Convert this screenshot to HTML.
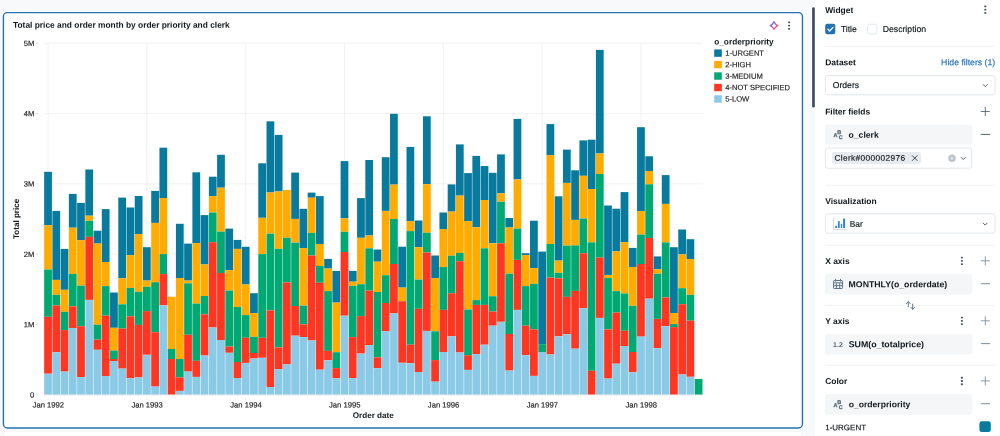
<!DOCTYPE html>
<html><head><meta charset="utf-8"><title>Dashboard</title>
<style>
*{box-sizing:border-box;margin:0;padding:0}
html,body{width:1000px;height:436px;overflow:hidden}
body{background:#f8f9fa;font-family:"Liberation Sans",sans-serif;color:#11171c}
#root{position:absolute;left:0;top:0;width:1000px;height:436px;overflow:hidden;will-change:transform;background:#f8f9fa}
#root>svg{position:absolute;left:0;top:0;text-rendering:geometricPrecision;font-family:"Liberation Sans",sans-serif}
</style></head><body>
<div id="root">
<svg width="1000" height="436" viewBox="0 0 1000 436">
<rect x="3.40" y="431.20" width="799.00" height="20.00" fill="#fff" rx="4.5" stroke="#ebebeb" stroke-width="0.5"/>
<rect x="3.40" y="12.60" width="799.05" height="415.40" fill="#fff" rx="3.9" stroke="#fff" stroke-width="2.3"/>
<rect x="3.40" y="12.60" width="799.05" height="415.40" fill="#fff" rx="3.9" stroke="#2272b4" stroke-width="1.4"/>
<rect x="812.10" y="7.30" width="2.70" height="100.30" fill="#fff" rx="1.3" stroke="#fff" stroke-width="1.4"/>
<rect x="812.10" y="7.30" width="2.70" height="100.30" fill="#3d4f5e" rx="1.3"/>
<rect x="815.10" y="-1.00" width="186.00" height="440.00" fill="#fff"/>
<line x1="43.90" x2="702.70" y1="394.65" y2="394.65" stroke="#ececec" stroke-width="0.7"/>
<line x1="35.70" x2="38.60" y1="394.65" y2="394.65" stroke="#d2d2d2" stroke-width="0.7"/>
<line x1="43.90" x2="702.70" y1="324.38" y2="324.38" stroke="#ececec" stroke-width="0.7"/>
<line x1="35.70" x2="38.60" y1="324.38" y2="324.38" stroke="#d2d2d2" stroke-width="0.7"/>
<line x1="43.90" x2="702.70" y1="254.11" y2="254.11" stroke="#ececec" stroke-width="0.7"/>
<line x1="35.70" x2="38.60" y1="254.11" y2="254.11" stroke="#d2d2d2" stroke-width="0.7"/>
<line x1="43.90" x2="702.70" y1="183.84" y2="183.84" stroke="#ececec" stroke-width="0.7"/>
<line x1="35.70" x2="38.60" y1="183.84" y2="183.84" stroke="#d2d2d2" stroke-width="0.7"/>
<line x1="43.90" x2="702.70" y1="113.57" y2="113.57" stroke="#ececec" stroke-width="0.7"/>
<line x1="35.70" x2="38.60" y1="113.57" y2="113.57" stroke="#d2d2d2" stroke-width="0.7"/>
<line x1="43.90" x2="702.70" y1="43.30" y2="43.30" stroke="#ececec" stroke-width="0.7"/>
<line x1="35.70" x2="38.60" y1="43.30" y2="43.30" stroke="#d2d2d2" stroke-width="0.7"/>
<line x1="48.05" x2="48.05" y1="43.30" y2="394.40" stroke="#ececec" stroke-width="0.7"/>
<line x1="48.05" x2="48.05" y1="397.20" y2="400.00" stroke="#e6e6e6" stroke-width="0.7"/>
<line x1="146.87" x2="146.87" y1="43.30" y2="394.40" stroke="#ececec" stroke-width="0.7"/>
<line x1="146.87" x2="146.87" y1="397.20" y2="400.00" stroke="#e6e6e6" stroke-width="0.7"/>
<line x1="245.69" x2="245.69" y1="43.30" y2="394.40" stroke="#ececec" stroke-width="0.7"/>
<line x1="245.69" x2="245.69" y1="397.20" y2="400.00" stroke="#e6e6e6" stroke-width="0.7"/>
<line x1="344.51" x2="344.51" y1="43.30" y2="394.40" stroke="#ececec" stroke-width="0.7"/>
<line x1="344.51" x2="344.51" y1="397.20" y2="400.00" stroke="#e6e6e6" stroke-width="0.7"/>
<line x1="443.33" x2="443.33" y1="43.30" y2="394.40" stroke="#ececec" stroke-width="0.7"/>
<line x1="443.33" x2="443.33" y1="397.20" y2="400.00" stroke="#e6e6e6" stroke-width="0.7"/>
<line x1="542.15" x2="542.15" y1="43.30" y2="394.40" stroke="#ececec" stroke-width="0.7"/>
<line x1="542.15" x2="542.15" y1="397.20" y2="400.00" stroke="#e6e6e6" stroke-width="0.7"/>
<line x1="640.97" x2="640.97" y1="43.30" y2="394.40" stroke="#ececec" stroke-width="0.7"/>
<line x1="640.97" x2="640.97" y1="397.20" y2="400.00" stroke="#e6e6e6" stroke-width="0.7"/>
<rect x="44.16" y="171.80" width="7.76" height="53.40" fill="#077a9d"/>
<rect x="44.16" y="225.20" width="7.76" height="44.30" fill="#ffab00"/>
<rect x="44.16" y="269.50" width="7.76" height="47.30" fill="#00a972"/>
<rect x="44.16" y="316.80" width="7.76" height="56.90" fill="#ff3621"/>
<rect x="44.16" y="373.70" width="7.76" height="20.95" fill="#8bcae7"/>
<rect x="52.40" y="210.90" width="7.76" height="69.00" fill="#077a9d"/>
<rect x="52.40" y="279.90" width="7.76" height="14.90" fill="#ffab00"/>
<rect x="52.40" y="294.80" width="7.76" height="10.60" fill="#00a972"/>
<rect x="52.40" y="305.40" width="7.76" height="46.90" fill="#ff3621"/>
<rect x="52.40" y="352.30" width="7.76" height="42.35" fill="#8bcae7"/>
<rect x="60.63" y="248.90" width="7.76" height="40.90" fill="#077a9d"/>
<rect x="60.63" y="289.80" width="7.76" height="22.00" fill="#ffab00"/>
<rect x="60.63" y="311.80" width="7.76" height="18.30" fill="#00a972"/>
<rect x="60.63" y="330.10" width="7.76" height="41.50" fill="#ff3621"/>
<rect x="60.63" y="371.60" width="7.76" height="23.05" fill="#8bcae7"/>
<rect x="68.87" y="193.90" width="7.76" height="33.80" fill="#077a9d"/>
<rect x="68.87" y="227.70" width="7.76" height="46.20" fill="#ffab00"/>
<rect x="68.87" y="273.90" width="7.76" height="32.40" fill="#00a972"/>
<rect x="68.87" y="306.30" width="7.76" height="21.70" fill="#ff3621"/>
<rect x="68.87" y="328.00" width="7.76" height="66.65" fill="#8bcae7"/>
<rect x="77.11" y="202.90" width="7.76" height="37.20" fill="#077a9d"/>
<rect x="77.11" y="240.10" width="7.76" height="45.50" fill="#ffab00"/>
<rect x="77.11" y="285.60" width="7.76" height="40.60" fill="#00a972"/>
<rect x="77.11" y="326.20" width="7.76" height="50.90" fill="#ff3621"/>
<rect x="77.11" y="377.10" width="7.76" height="17.55" fill="#8bcae7"/>
<rect x="85.34" y="169.50" width="7.76" height="46.20" fill="#077a9d"/>
<rect x="85.34" y="215.70" width="7.76" height="5.10" fill="#ffab00"/>
<rect x="85.34" y="220.80" width="7.76" height="16.10" fill="#00a972"/>
<rect x="85.34" y="236.90" width="7.76" height="63.00" fill="#ff3621"/>
<rect x="85.34" y="299.90" width="7.76" height="94.75" fill="#8bcae7"/>
<rect x="93.58" y="230.70" width="7.76" height="12.90" fill="#077a9d"/>
<rect x="93.58" y="243.60" width="7.76" height="81.10" fill="#ffab00"/>
<rect x="93.58" y="324.70" width="7.76" height="15.00" fill="#00a972"/>
<rect x="93.58" y="339.70" width="7.76" height="10.10" fill="#ff3621"/>
<rect x="93.58" y="349.80" width="7.76" height="44.85" fill="#8bcae7"/>
<rect x="101.81" y="209.10" width="7.76" height="52.90" fill="#077a9d"/>
<rect x="101.81" y="262.00" width="7.76" height="24.10" fill="#ffab00"/>
<rect x="101.81" y="286.10" width="7.76" height="29.60" fill="#00a972"/>
<rect x="101.81" y="315.70" width="7.76" height="60.30" fill="#ff3621"/>
<rect x="101.81" y="376.00" width="7.76" height="18.65" fill="#8bcae7"/>
<rect x="110.05" y="292.50" width="7.76" height="35.30" fill="#077a9d"/>
<rect x="110.05" y="327.80" width="7.76" height="22.70" fill="#ffab00"/>
<rect x="110.05" y="350.50" width="7.76" height="8.50" fill="#00a972"/>
<rect x="110.05" y="359.00" width="7.76" height="2.00" fill="#ff3621"/>
<rect x="110.05" y="361.00" width="7.76" height="33.65" fill="#8bcae7"/>
<rect x="118.28" y="197.60" width="7.76" height="80.70" fill="#077a9d"/>
<rect x="118.28" y="278.30" width="7.76" height="26.00" fill="#ffab00"/>
<rect x="118.28" y="304.30" width="7.76" height="24.30" fill="#00a972"/>
<rect x="118.28" y="328.60" width="7.76" height="40.00" fill="#ff3621"/>
<rect x="118.28" y="368.60" width="7.76" height="26.05" fill="#8bcae7"/>
<rect x="126.52" y="207.50" width="7.76" height="47.60" fill="#077a9d"/>
<rect x="126.52" y="255.10" width="7.76" height="32.80" fill="#ffab00"/>
<rect x="126.52" y="287.90" width="7.76" height="28.40" fill="#00a972"/>
<rect x="126.52" y="316.30" width="7.76" height="62.00" fill="#ff3621"/>
<rect x="126.52" y="378.30" width="7.76" height="16.35" fill="#8bcae7"/>
<rect x="134.75" y="196.00" width="7.76" height="38.10" fill="#077a9d"/>
<rect x="134.75" y="234.10" width="7.76" height="57.70" fill="#ffab00"/>
<rect x="134.75" y="291.80" width="7.76" height="33.10" fill="#00a972"/>
<rect x="134.75" y="324.90" width="7.76" height="52.50" fill="#ff3621"/>
<rect x="134.75" y="377.40" width="7.76" height="17.25" fill="#8bcae7"/>
<rect x="142.99" y="247.20" width="7.76" height="33.40" fill="#077a9d"/>
<rect x="142.99" y="280.60" width="7.76" height="6.20" fill="#ffab00"/>
<rect x="142.99" y="286.80" width="7.76" height="24.30" fill="#00a972"/>
<rect x="142.99" y="311.10" width="7.76" height="43.70" fill="#ff3621"/>
<rect x="142.99" y="354.80" width="7.76" height="39.85" fill="#8bcae7"/>
<rect x="151.22" y="190.90" width="7.76" height="32.00" fill="#077a9d"/>
<rect x="151.22" y="222.90" width="7.76" height="59.30" fill="#ffab00"/>
<rect x="151.22" y="282.20" width="7.76" height="50.00" fill="#00a972"/>
<rect x="151.22" y="332.20" width="7.76" height="54.40" fill="#ff3621"/>
<rect x="151.22" y="386.60" width="7.76" height="8.05" fill="#8bcae7"/>
<rect x="159.46" y="147.70" width="7.76" height="50.30" fill="#077a9d"/>
<rect x="159.46" y="198.00" width="7.76" height="56.10" fill="#ffab00"/>
<rect x="159.46" y="254.10" width="7.76" height="20.00" fill="#00a972"/>
<rect x="159.46" y="274.10" width="7.76" height="31.30" fill="#ff3621"/>
<rect x="159.46" y="305.40" width="7.76" height="89.25" fill="#8bcae7"/>
<rect x="167.69" y="296.70" width="7.76" height="52.30" fill="#ffab00"/>
<rect x="167.69" y="349.00" width="7.76" height="10.00" fill="#00a972"/>
<rect x="167.69" y="359.00" width="7.76" height="35.65" fill="#ff3621"/>
<rect x="175.93" y="223.80" width="7.76" height="54.20" fill="#077a9d"/>
<rect x="175.93" y="278.00" width="7.76" height="81.00" fill="#ffab00"/>
<rect x="175.93" y="359.00" width="7.76" height="18.40" fill="#00a972"/>
<rect x="175.93" y="377.40" width="7.76" height="13.50" fill="#ff3621"/>
<rect x="175.93" y="390.90" width="7.76" height="3.75" fill="#8bcae7"/>
<rect x="184.16" y="243.60" width="7.76" height="37.00" fill="#077a9d"/>
<rect x="184.16" y="280.60" width="7.76" height="2.70" fill="#ffab00"/>
<rect x="184.16" y="283.30" width="7.76" height="51.50" fill="#00a972"/>
<rect x="184.16" y="334.80" width="7.76" height="36.80" fill="#ff3621"/>
<rect x="184.16" y="371.60" width="7.76" height="23.05" fill="#8bcae7"/>
<rect x="192.40" y="172.30" width="7.76" height="70.80" fill="#077a9d"/>
<rect x="192.40" y="243.10" width="7.76" height="60.50" fill="#ffab00"/>
<rect x="192.40" y="303.60" width="7.76" height="57.20" fill="#00a972"/>
<rect x="192.40" y="360.80" width="7.76" height="16.10" fill="#ff3621"/>
<rect x="192.40" y="376.90" width="7.76" height="17.75" fill="#8bcae7"/>
<rect x="200.63" y="215.10" width="7.76" height="49.40" fill="#077a9d"/>
<rect x="200.63" y="264.50" width="7.76" height="31.50" fill="#ffab00"/>
<rect x="200.63" y="296.00" width="7.76" height="18.30" fill="#00a972"/>
<rect x="200.63" y="314.30" width="7.76" height="41.20" fill="#ff3621"/>
<rect x="200.63" y="355.50" width="7.76" height="39.15" fill="#8bcae7"/>
<rect x="208.87" y="176.70" width="7.76" height="19.50" fill="#077a9d"/>
<rect x="208.87" y="196.20" width="7.76" height="16.30" fill="#ffab00"/>
<rect x="208.87" y="212.50" width="7.76" height="29.70" fill="#00a972"/>
<rect x="208.87" y="242.20" width="7.76" height="85.30" fill="#ff3621"/>
<rect x="208.87" y="327.50" width="7.76" height="67.15" fill="#8bcae7"/>
<rect x="217.10" y="154.80" width="7.76" height="32.90" fill="#077a9d"/>
<rect x="217.10" y="187.70" width="7.76" height="43.90" fill="#ffab00"/>
<rect x="217.10" y="231.60" width="7.76" height="41.40" fill="#00a972"/>
<rect x="217.10" y="273.00" width="7.76" height="67.00" fill="#ff3621"/>
<rect x="217.10" y="340.00" width="7.76" height="54.65" fill="#8bcae7"/>
<rect x="225.34" y="228.60" width="7.76" height="41.60" fill="#077a9d"/>
<rect x="225.34" y="270.20" width="7.76" height="20.30" fill="#ffab00"/>
<rect x="225.34" y="290.50" width="7.76" height="56.00" fill="#00a972"/>
<rect x="225.34" y="346.50" width="7.76" height="6.30" fill="#ff3621"/>
<rect x="225.34" y="352.80" width="7.76" height="41.85" fill="#8bcae7"/>
<rect x="233.57" y="239.90" width="7.76" height="9.00" fill="#077a9d"/>
<rect x="233.57" y="248.90" width="7.76" height="58.10" fill="#ffab00"/>
<rect x="233.57" y="307.00" width="7.76" height="55.00" fill="#00a972"/>
<rect x="233.57" y="362.00" width="7.76" height="16.00" fill="#ff3621"/>
<rect x="233.57" y="378.00" width="7.76" height="16.65" fill="#8bcae7"/>
<rect x="241.81" y="246.80" width="7.76" height="37.70" fill="#077a9d"/>
<rect x="241.81" y="284.50" width="7.76" height="30.60" fill="#ffab00"/>
<rect x="241.81" y="315.10" width="7.76" height="22.70" fill="#00a972"/>
<rect x="241.81" y="337.80" width="7.76" height="25.10" fill="#ff3621"/>
<rect x="241.81" y="362.90" width="7.76" height="31.75" fill="#8bcae7"/>
<rect x="250.04" y="293.20" width="7.76" height="19.90" fill="#077a9d"/>
<rect x="250.04" y="313.10" width="7.76" height="23.70" fill="#ffab00"/>
<rect x="250.04" y="336.80" width="7.76" height="16.20" fill="#00a972"/>
<rect x="250.04" y="353.00" width="7.76" height="5.50" fill="#ff3621"/>
<rect x="250.04" y="358.50" width="7.76" height="36.15" fill="#8bcae7"/>
<rect x="258.27" y="163.30" width="7.76" height="54.50" fill="#077a9d"/>
<rect x="258.27" y="217.80" width="7.76" height="36.30" fill="#ffab00"/>
<rect x="258.27" y="254.10" width="7.76" height="83.70" fill="#00a972"/>
<rect x="258.27" y="337.80" width="7.76" height="20.00" fill="#ff3621"/>
<rect x="258.27" y="357.80" width="7.76" height="36.85" fill="#8bcae7"/>
<rect x="266.51" y="121.30" width="7.76" height="71.20" fill="#077a9d"/>
<rect x="266.51" y="192.50" width="7.76" height="41.20" fill="#ffab00"/>
<rect x="266.51" y="233.70" width="7.76" height="76.70" fill="#00a972"/>
<rect x="266.51" y="310.40" width="7.76" height="76.60" fill="#ff3621"/>
<rect x="266.51" y="387.00" width="7.76" height="7.65" fill="#8bcae7"/>
<rect x="274.75" y="134.90" width="7.76" height="56.60" fill="#077a9d"/>
<rect x="274.75" y="191.50" width="7.76" height="57.30" fill="#ffab00"/>
<rect x="274.75" y="248.80" width="7.76" height="98.60" fill="#00a972"/>
<rect x="274.75" y="347.40" width="7.76" height="21.60" fill="#ff3621"/>
<rect x="274.75" y="369.00" width="7.76" height="25.65" fill="#8bcae7"/>
<rect x="282.98" y="189.90" width="7.76" height="47.90" fill="#ffab00"/>
<rect x="282.98" y="237.80" width="7.76" height="44.60" fill="#00a972"/>
<rect x="282.98" y="282.40" width="7.76" height="82.00" fill="#ff3621"/>
<rect x="282.98" y="364.40" width="7.76" height="30.25" fill="#8bcae7"/>
<rect x="291.21" y="172.60" width="7.76" height="46.30" fill="#077a9d"/>
<rect x="291.21" y="218.90" width="7.76" height="23.70" fill="#ffab00"/>
<rect x="291.21" y="242.60" width="7.76" height="63.40" fill="#00a972"/>
<rect x="291.21" y="306.00" width="7.76" height="29.70" fill="#ff3621"/>
<rect x="291.21" y="335.70" width="7.76" height="58.95" fill="#8bcae7"/>
<rect x="299.45" y="208.80" width="7.76" height="39.30" fill="#077a9d"/>
<rect x="299.45" y="248.10" width="7.76" height="57.50" fill="#ffab00"/>
<rect x="299.45" y="305.60" width="7.76" height="18.80" fill="#00a972"/>
<rect x="299.45" y="324.40" width="7.76" height="12.70" fill="#ff3621"/>
<rect x="299.45" y="337.10" width="7.76" height="57.55" fill="#8bcae7"/>
<rect x="307.69" y="192.60" width="7.76" height="5.10" fill="#077a9d"/>
<rect x="307.69" y="197.70" width="7.76" height="35.20" fill="#ffab00"/>
<rect x="307.69" y="232.90" width="7.76" height="22.60" fill="#00a972"/>
<rect x="307.69" y="255.50" width="7.76" height="85.00" fill="#ff3621"/>
<rect x="307.69" y="340.50" width="7.76" height="54.15" fill="#8bcae7"/>
<rect x="315.92" y="196.10" width="7.76" height="47.90" fill="#077a9d"/>
<rect x="315.92" y="244.00" width="7.76" height="22.00" fill="#ffab00"/>
<rect x="315.92" y="266.00" width="7.76" height="16.80" fill="#00a972"/>
<rect x="315.92" y="282.80" width="7.76" height="86.90" fill="#ff3621"/>
<rect x="315.92" y="369.70" width="7.76" height="24.95" fill="#8bcae7"/>
<rect x="324.16" y="258.90" width="7.76" height="9.70" fill="#077a9d"/>
<rect x="324.16" y="268.60" width="7.76" height="22.50" fill="#ffab00"/>
<rect x="324.16" y="291.10" width="7.76" height="59.80" fill="#00a972"/>
<rect x="324.16" y="350.90" width="7.76" height="9.40" fill="#ff3621"/>
<rect x="324.16" y="360.30" width="7.76" height="34.35" fill="#8bcae7"/>
<rect x="332.39" y="270.90" width="7.76" height="31.70" fill="#077a9d"/>
<rect x="332.39" y="302.60" width="7.76" height="49.60" fill="#ffab00"/>
<rect x="332.39" y="352.20" width="7.76" height="15.90" fill="#00a972"/>
<rect x="332.39" y="368.10" width="7.76" height="10.30" fill="#ff3621"/>
<rect x="332.39" y="378.40" width="7.76" height="16.25" fill="#8bcae7"/>
<rect x="340.62" y="161.10" width="7.76" height="57.30" fill="#077a9d"/>
<rect x="340.62" y="218.40" width="7.76" height="13.40" fill="#ffab00"/>
<rect x="340.62" y="231.80" width="7.76" height="20.20" fill="#00a972"/>
<rect x="340.62" y="252.00" width="7.76" height="63.70" fill="#ff3621"/>
<rect x="340.62" y="315.70" width="7.76" height="78.95" fill="#8bcae7"/>
<rect x="348.86" y="270.90" width="7.76" height="10.80" fill="#077a9d"/>
<rect x="348.86" y="281.70" width="7.76" height="4.10" fill="#ffab00"/>
<rect x="348.86" y="285.80" width="7.76" height="51.30" fill="#00a972"/>
<rect x="348.86" y="337.10" width="7.76" height="41.10" fill="#ff3621"/>
<rect x="348.86" y="378.20" width="7.76" height="16.45" fill="#8bcae7"/>
<rect x="357.09" y="198.10" width="7.76" height="39.70" fill="#077a9d"/>
<rect x="357.09" y="237.80" width="7.76" height="46.40" fill="#ffab00"/>
<rect x="357.09" y="284.20" width="7.76" height="31.90" fill="#00a972"/>
<rect x="357.09" y="316.10" width="7.76" height="37.50" fill="#ff3621"/>
<rect x="357.09" y="353.60" width="7.76" height="41.05" fill="#8bcae7"/>
<rect x="365.33" y="160.00" width="7.76" height="75.50" fill="#077a9d"/>
<rect x="365.33" y="235.50" width="7.76" height="12.80" fill="#ffab00"/>
<rect x="365.33" y="248.30" width="7.76" height="42.30" fill="#00a972"/>
<rect x="365.33" y="290.60" width="7.76" height="54.50" fill="#ff3621"/>
<rect x="365.33" y="345.10" width="7.76" height="49.55" fill="#8bcae7"/>
<rect x="373.56" y="249.50" width="7.76" height="12.20" fill="#077a9d"/>
<rect x="373.56" y="261.70" width="7.76" height="30.30" fill="#ffab00"/>
<rect x="373.56" y="292.00" width="7.76" height="65.30" fill="#00a972"/>
<rect x="373.56" y="357.30" width="7.76" height="10.80" fill="#ff3621"/>
<rect x="373.56" y="368.10" width="7.76" height="26.55" fill="#8bcae7"/>
<rect x="381.80" y="157.20" width="7.76" height="53.70" fill="#077a9d"/>
<rect x="381.80" y="210.90" width="7.76" height="64.30" fill="#ffab00"/>
<rect x="381.80" y="275.20" width="7.76" height="27.80" fill="#00a972"/>
<rect x="381.80" y="303.00" width="7.76" height="28.30" fill="#ff3621"/>
<rect x="381.80" y="331.30" width="7.76" height="63.35" fill="#8bcae7"/>
<rect x="390.04" y="113.80" width="7.76" height="70.80" fill="#077a9d"/>
<rect x="390.04" y="184.60" width="7.76" height="34.30" fill="#ffab00"/>
<rect x="390.04" y="218.90" width="7.76" height="45.10" fill="#00a972"/>
<rect x="390.04" y="264.00" width="7.76" height="49.40" fill="#ff3621"/>
<rect x="390.04" y="313.40" width="7.76" height="81.25" fill="#8bcae7"/>
<rect x="398.27" y="246.70" width="7.76" height="40.90" fill="#077a9d"/>
<rect x="398.27" y="287.60" width="7.76" height="13.60" fill="#ffab00"/>
<rect x="398.27" y="301.20" width="7.76" height="61.60" fill="#ff3621"/>
<rect x="398.27" y="362.80" width="7.76" height="31.85" fill="#8bcae7"/>
<rect x="406.50" y="146.90" width="7.76" height="74.30" fill="#077a9d"/>
<rect x="406.50" y="221.20" width="7.76" height="9.90" fill="#ffab00"/>
<rect x="406.50" y="231.10" width="7.76" height="113.60" fill="#00a972"/>
<rect x="406.50" y="344.70" width="7.76" height="18.60" fill="#ff3621"/>
<rect x="406.50" y="363.30" width="7.76" height="31.35" fill="#8bcae7"/>
<rect x="414.74" y="220.50" width="7.76" height="26.70" fill="#077a9d"/>
<rect x="414.74" y="247.20" width="7.76" height="32.40" fill="#ffab00"/>
<rect x="414.74" y="279.60" width="7.76" height="29.20" fill="#00a972"/>
<rect x="414.74" y="308.80" width="7.76" height="63.20" fill="#ff3621"/>
<rect x="414.74" y="372.00" width="7.76" height="22.65" fill="#8bcae7"/>
<rect x="422.97" y="116.30" width="7.76" height="67.80" fill="#077a9d"/>
<rect x="422.97" y="184.10" width="7.76" height="48.60" fill="#ffab00"/>
<rect x="422.97" y="232.70" width="7.76" height="19.80" fill="#00a972"/>
<rect x="422.97" y="252.50" width="7.76" height="78.40" fill="#ff3621"/>
<rect x="422.97" y="330.90" width="7.76" height="63.75" fill="#8bcae7"/>
<rect x="431.21" y="255.50" width="7.76" height="22.70" fill="#077a9d"/>
<rect x="431.21" y="278.20" width="7.76" height="53.10" fill="#ffab00"/>
<rect x="431.21" y="331.30" width="7.76" height="28.80" fill="#00a972"/>
<rect x="431.21" y="360.10" width="7.76" height="21.60" fill="#ff3621"/>
<rect x="431.21" y="381.70" width="7.76" height="12.95" fill="#8bcae7"/>
<rect x="439.44" y="212.50" width="7.76" height="16.50" fill="#077a9d"/>
<rect x="439.44" y="229.00" width="7.76" height="38.00" fill="#ffab00"/>
<rect x="439.44" y="267.00" width="7.76" height="42.90" fill="#00a972"/>
<rect x="439.44" y="309.90" width="7.76" height="42.10" fill="#ff3621"/>
<rect x="439.44" y="352.00" width="7.76" height="42.65" fill="#8bcae7"/>
<rect x="447.68" y="184.40" width="7.76" height="27.20" fill="#077a9d"/>
<rect x="447.68" y="211.60" width="7.76" height="44.10" fill="#ffab00"/>
<rect x="447.68" y="255.70" width="7.76" height="37.50" fill="#00a972"/>
<rect x="447.68" y="293.20" width="7.76" height="43.20" fill="#ff3621"/>
<rect x="447.68" y="336.40" width="7.76" height="58.25" fill="#8bcae7"/>
<rect x="455.92" y="144.40" width="7.76" height="51.20" fill="#077a9d"/>
<rect x="455.92" y="195.60" width="7.76" height="57.30" fill="#ffab00"/>
<rect x="455.92" y="252.90" width="7.76" height="8.30" fill="#00a972"/>
<rect x="455.92" y="261.20" width="7.76" height="91.30" fill="#ff3621"/>
<rect x="455.92" y="352.50" width="7.76" height="42.15" fill="#8bcae7"/>
<rect x="464.15" y="173.10" width="7.76" height="48.10" fill="#077a9d"/>
<rect x="464.15" y="221.20" width="7.76" height="88.30" fill="#ffab00"/>
<rect x="464.15" y="309.50" width="7.76" height="45.70" fill="#00a972"/>
<rect x="464.15" y="355.20" width="7.76" height="14.70" fill="#ff3621"/>
<rect x="464.15" y="369.90" width="7.76" height="24.75" fill="#8bcae7"/>
<rect x="472.38" y="155.90" width="7.76" height="71.30" fill="#077a9d"/>
<rect x="472.38" y="227.20" width="7.76" height="72.90" fill="#ffab00"/>
<rect x="472.38" y="300.10" width="7.76" height="4.80" fill="#00a972"/>
<rect x="472.38" y="304.90" width="7.76" height="49.20" fill="#ff3621"/>
<rect x="472.38" y="354.10" width="7.76" height="40.55" fill="#8bcae7"/>
<rect x="480.62" y="166.00" width="7.76" height="34.00" fill="#077a9d"/>
<rect x="480.62" y="200.00" width="7.76" height="48.30" fill="#ffab00"/>
<rect x="480.62" y="248.30" width="7.76" height="56.60" fill="#00a972"/>
<rect x="480.62" y="304.90" width="7.76" height="39.80" fill="#ff3621"/>
<rect x="480.62" y="344.70" width="7.76" height="49.95" fill="#8bcae7"/>
<rect x="488.85" y="172.80" width="7.76" height="70.50" fill="#077a9d"/>
<rect x="488.85" y="243.30" width="7.76" height="52.90" fill="#ffab00"/>
<rect x="488.85" y="296.20" width="7.76" height="15.30" fill="#00a972"/>
<rect x="488.85" y="311.50" width="7.76" height="14.20" fill="#ff3621"/>
<rect x="488.85" y="325.70" width="7.76" height="68.95" fill="#8bcae7"/>
<rect x="497.09" y="154.40" width="7.76" height="38.90" fill="#077a9d"/>
<rect x="497.09" y="193.30" width="7.76" height="8.50" fill="#ffab00"/>
<rect x="497.09" y="201.80" width="7.76" height="41.50" fill="#00a972"/>
<rect x="497.09" y="243.30" width="7.76" height="78.50" fill="#ff3621"/>
<rect x="497.09" y="321.80" width="7.76" height="72.85" fill="#8bcae7"/>
<rect x="505.32" y="218.00" width="7.76" height="9.50" fill="#077a9d"/>
<rect x="505.32" y="227.50" width="7.76" height="46.20" fill="#ffab00"/>
<rect x="505.32" y="273.70" width="7.76" height="60.30" fill="#00a972"/>
<rect x="505.32" y="334.00" width="7.76" height="36.60" fill="#ff3621"/>
<rect x="505.32" y="370.60" width="7.76" height="24.05" fill="#8bcae7"/>
<rect x="513.56" y="118.90" width="7.76" height="60.60" fill="#077a9d"/>
<rect x="513.56" y="179.50" width="7.76" height="49.10" fill="#ffab00"/>
<rect x="513.56" y="228.60" width="7.76" height="31.30" fill="#00a972"/>
<rect x="513.56" y="259.90" width="7.76" height="50.00" fill="#ff3621"/>
<rect x="513.56" y="309.90" width="7.76" height="84.75" fill="#8bcae7"/>
<rect x="521.79" y="253.20" width="7.76" height="1.90" fill="#077a9d"/>
<rect x="521.79" y="255.10" width="7.76" height="31.00" fill="#ffab00"/>
<rect x="521.79" y="286.10" width="7.76" height="39.60" fill="#00a972"/>
<rect x="521.79" y="325.70" width="7.76" height="29.50" fill="#ff3621"/>
<rect x="521.79" y="355.20" width="7.76" height="39.45" fill="#8bcae7"/>
<rect x="530.03" y="220.70" width="7.76" height="47.50" fill="#077a9d"/>
<rect x="530.03" y="268.20" width="7.76" height="15.60" fill="#ffab00"/>
<rect x="530.03" y="283.80" width="7.76" height="45.60" fill="#00a972"/>
<rect x="530.03" y="329.40" width="7.76" height="46.50" fill="#ff3621"/>
<rect x="530.03" y="375.90" width="7.76" height="18.75" fill="#8bcae7"/>
<rect x="538.26" y="251.60" width="7.76" height="92.50" fill="#077a9d"/>
<rect x="538.26" y="344.10" width="7.76" height="7.90" fill="#00a972"/>
<rect x="538.26" y="352.00" width="7.76" height="42.65" fill="#8bcae7"/>
<rect x="546.50" y="124.10" width="7.76" height="31.00" fill="#077a9d"/>
<rect x="546.50" y="155.10" width="7.76" height="88.90" fill="#ffab00"/>
<rect x="546.50" y="244.00" width="7.76" height="33.60" fill="#00a972"/>
<rect x="546.50" y="277.60" width="7.76" height="76.90" fill="#ff3621"/>
<rect x="546.50" y="354.50" width="7.76" height="40.15" fill="#8bcae7"/>
<rect x="554.73" y="196.30" width="7.76" height="64.30" fill="#077a9d"/>
<rect x="554.73" y="260.60" width="7.76" height="12.20" fill="#ffab00"/>
<rect x="554.73" y="272.80" width="7.76" height="5.50" fill="#00a972"/>
<rect x="554.73" y="278.30" width="7.76" height="58.00" fill="#ff3621"/>
<rect x="554.73" y="336.30" width="7.76" height="58.35" fill="#8bcae7"/>
<rect x="562.97" y="149.60" width="7.76" height="33.30" fill="#077a9d"/>
<rect x="562.97" y="182.90" width="7.76" height="62.70" fill="#ffab00"/>
<rect x="562.97" y="245.60" width="7.76" height="51.30" fill="#00a972"/>
<rect x="562.97" y="296.90" width="7.76" height="37.40" fill="#ff3621"/>
<rect x="562.97" y="334.30" width="7.76" height="60.35" fill="#8bcae7"/>
<rect x="571.20" y="170.30" width="7.76" height="49.60" fill="#077a9d"/>
<rect x="571.20" y="219.90" width="7.76" height="25.50" fill="#ffab00"/>
<rect x="571.20" y="245.40" width="7.76" height="45.50" fill="#00a972"/>
<rect x="571.20" y="290.90" width="7.76" height="57.80" fill="#ff3621"/>
<rect x="571.20" y="348.70" width="7.76" height="45.95" fill="#8bcae7"/>
<rect x="579.44" y="140.40" width="7.76" height="35.40" fill="#077a9d"/>
<rect x="579.44" y="175.80" width="7.76" height="42.70" fill="#ffab00"/>
<rect x="579.44" y="218.50" width="7.76" height="34.70" fill="#00a972"/>
<rect x="579.44" y="253.20" width="7.76" height="54.90" fill="#ff3621"/>
<rect x="579.44" y="308.10" width="7.76" height="86.55" fill="#8bcae7"/>
<rect x="587.67" y="139.70" width="7.76" height="49.40" fill="#077a9d"/>
<rect x="587.67" y="189.10" width="7.76" height="53.30" fill="#ffab00"/>
<rect x="587.67" y="242.40" width="7.76" height="128.40" fill="#00a972"/>
<rect x="587.67" y="370.80" width="7.76" height="23.85" fill="#ff3621"/>
<rect x="595.91" y="49.90" width="7.76" height="103.60" fill="#077a9d"/>
<rect x="595.91" y="153.50" width="7.76" height="20.50" fill="#ffab00"/>
<rect x="595.91" y="174.00" width="7.76" height="83.60" fill="#00a972"/>
<rect x="595.91" y="257.60" width="7.76" height="60.30" fill="#ff3621"/>
<rect x="595.91" y="317.90" width="7.76" height="76.75" fill="#8bcae7"/>
<rect x="604.14" y="205.50" width="7.76" height="69.60" fill="#077a9d"/>
<rect x="604.14" y="275.10" width="7.76" height="2.90" fill="#ffab00"/>
<rect x="604.14" y="278.00" width="7.76" height="51.40" fill="#00a972"/>
<rect x="604.14" y="329.40" width="7.76" height="49.20" fill="#ff3621"/>
<rect x="604.14" y="378.60" width="7.76" height="16.05" fill="#8bcae7"/>
<rect x="612.38" y="208.70" width="7.76" height="42.70" fill="#077a9d"/>
<rect x="612.38" y="251.40" width="7.76" height="39.70" fill="#ffab00"/>
<rect x="612.38" y="291.10" width="7.76" height="21.50" fill="#00a972"/>
<rect x="612.38" y="312.60" width="7.76" height="51.10" fill="#ff3621"/>
<rect x="612.38" y="363.70" width="7.76" height="30.95" fill="#8bcae7"/>
<rect x="620.61" y="192.10" width="7.76" height="50.10" fill="#077a9d"/>
<rect x="620.61" y="242.20" width="7.76" height="51.20" fill="#ffab00"/>
<rect x="620.61" y="293.40" width="7.76" height="37.40" fill="#00a972"/>
<rect x="620.61" y="330.80" width="7.76" height="15.20" fill="#ff3621"/>
<rect x="620.61" y="346.00" width="7.76" height="48.65" fill="#8bcae7"/>
<rect x="628.85" y="247.90" width="7.76" height="19.10" fill="#077a9d"/>
<rect x="628.85" y="267.00" width="7.76" height="38.80" fill="#ffab00"/>
<rect x="628.85" y="305.80" width="7.76" height="46.20" fill="#00a972"/>
<rect x="628.85" y="352.00" width="7.76" height="20.20" fill="#ff3621"/>
<rect x="628.85" y="372.20" width="7.76" height="22.45" fill="#8bcae7"/>
<rect x="637.08" y="127.20" width="7.76" height="83.90" fill="#077a9d"/>
<rect x="637.08" y="211.10" width="7.76" height="23.50" fill="#ffab00"/>
<rect x="637.08" y="234.60" width="7.76" height="29.40" fill="#00a972"/>
<rect x="637.08" y="264.00" width="7.76" height="72.60" fill="#ff3621"/>
<rect x="637.08" y="336.60" width="7.76" height="58.05" fill="#8bcae7"/>
<rect x="645.32" y="156.30" width="7.76" height="14.70" fill="#077a9d"/>
<rect x="645.32" y="171.00" width="7.76" height="13.30" fill="#ffab00"/>
<rect x="645.32" y="184.30" width="7.76" height="53.70" fill="#00a972"/>
<rect x="645.32" y="238.00" width="7.76" height="60.70" fill="#ff3621"/>
<rect x="645.32" y="298.70" width="7.76" height="95.95" fill="#8bcae7"/>
<rect x="653.55" y="256.40" width="7.76" height="12.90" fill="#077a9d"/>
<rect x="653.55" y="269.30" width="7.76" height="4.40" fill="#ffab00"/>
<rect x="653.55" y="273.70" width="7.76" height="45.20" fill="#00a972"/>
<rect x="653.55" y="318.90" width="7.76" height="29.40" fill="#ff3621"/>
<rect x="653.55" y="348.30" width="7.76" height="46.35" fill="#8bcae7"/>
<rect x="661.79" y="175.10" width="7.76" height="28.80" fill="#077a9d"/>
<rect x="661.79" y="203.90" width="7.76" height="38.50" fill="#ffab00"/>
<rect x="661.79" y="242.40" width="7.76" height="55.00" fill="#00a972"/>
<rect x="661.79" y="297.40" width="7.76" height="28.80" fill="#ff3621"/>
<rect x="661.79" y="326.20" width="7.76" height="68.45" fill="#8bcae7"/>
<rect x="670.02" y="247.20" width="7.76" height="65.90" fill="#077a9d"/>
<rect x="670.02" y="313.10" width="7.76" height="11.00" fill="#ffab00"/>
<rect x="670.02" y="324.10" width="7.76" height="3.00" fill="#00a972"/>
<rect x="670.02" y="327.10" width="7.76" height="67.55" fill="#ff3621"/>
<rect x="678.26" y="229.50" width="7.76" height="24.90" fill="#077a9d"/>
<rect x="678.26" y="254.40" width="7.76" height="33.80" fill="#ffab00"/>
<rect x="678.26" y="288.20" width="7.76" height="16.00" fill="#00a972"/>
<rect x="678.26" y="304.20" width="7.76" height="70.30" fill="#ff3621"/>
<rect x="678.26" y="374.50" width="7.76" height="20.15" fill="#8bcae7"/>
<rect x="686.49" y="239.20" width="7.76" height="19.80" fill="#077a9d"/>
<rect x="686.49" y="259.00" width="7.76" height="35.80" fill="#ffab00"/>
<rect x="686.49" y="294.80" width="7.76" height="25.90" fill="#00a972"/>
<rect x="686.49" y="320.70" width="7.76" height="56.10" fill="#ff3621"/>
<rect x="686.49" y="376.80" width="7.76" height="17.85" fill="#8bcae7"/>
<rect x="694.73" y="378.90" width="7.76" height="15.75" fill="#00a972"/>
<line x1="43.90" x2="702.70" y1="394.95" y2="394.95" stroke="#e0e0e0" stroke-width="0.5"/>
<rect x="714.20" y="49.40" width="7.60" height="7.40" fill="#077a9d"/>
<rect x="714.20" y="60.87" width="7.60" height="7.40" fill="#ffab00"/>
<rect x="714.20" y="72.34" width="7.60" height="7.40" fill="#00a972"/>
<rect x="714.20" y="83.81" width="7.60" height="7.40" fill="#ff3621"/>
<rect x="714.20" y="95.28" width="7.60" height="7.40" fill="#8bcae7"/>
<defs><linearGradient id="sg" x1="0.15" y1="0.15" x2="0.85" y2="0.85"><stop offset="0" stop-color="#4469f5"/><stop offset="0.5" stop-color="#c44bd8"/><stop offset="1" stop-color="#ff4a4a"/></linearGradient></defs>
<g transform="translate(774.00,25.55)"><path d="M0 -3.8 Q1.1 -1.1 3.8 0 Q1.1 1.1 0 3.8 Q-1.1 1.1 -3.8 0 Q-1.1 -1.1 0 -3.8 Z" fill="none" stroke="url(#sg)" stroke-width="1.25" stroke-linejoin="round"/></g>
<g transform="translate(789.10,25.60)"><g fill="#44535f"><rect x="-1.05" y="-4.15" width="2.1" height="1.8" rx="0.7"/><rect x="-1.05" y="-0.9" width="2.1" height="1.8" rx="0.7"/><rect x="-1.05" y="2.35" width="2.1" height="1.8" rx="0.7"/></g></g>
<g transform="translate(985.30,9.70)"><g fill="#44535f"><rect x="-1.05" y="-4.15" width="2.1" height="1.8" rx="0.7"/><rect x="-1.05" y="-0.9" width="2.1" height="1.8" rx="0.7"/><rect x="-1.05" y="2.35" width="2.1" height="1.8" rx="0.7"/></g></g>
<rect x="825.20" y="23.80" width="10.10" height="10.40" fill="#2272b4" rx="2.2"/>
<g transform="translate(825.20,23.80)"><path d="M2.6 5.4 L4.4 7.2 L7.8 3.5" fill="none" stroke="#fff" stroke-width="1.2" stroke-linecap="round" stroke-linejoin="round"/></g>
<rect x="867.50" y="24.20" width="9.40" height="9.60" fill="#fff" rx="2" stroke="#dbe3ec" stroke-width="0.8"/>
<line x1="825.00" x2="995.00" y1="46.30" y2="46.30" stroke="#ebeef1" stroke-width="0.8"/>
<rect x="825.40" y="75.60" width="169.70" height="19.30" fill="#fff" rx="2.3" stroke="#e2e7ec" stroke-width="1"/>
<g transform="translate(985.20,85.60)"><path d="M-2.0 -1.0 L0 1.0 L2.0 -1.0" fill="none" stroke="#50606d" stroke-width="1.0" stroke-linecap="round" stroke-linejoin="round"/></g>
<g transform="translate(985.30,111.50)"><path d="M0 -4.5 V4.5 M-4.5 0 H4.5" stroke="#56697a" stroke-width="0.9" fill="none"/></g>
<rect x="824.90" y="124.50" width="147.30" height="20.10" fill="#f4f6f8" rx="2.4"/>
<g transform="translate(833.30,129.20)"><g fill="#586a78" stroke="#586a78" stroke-width="0.28" font-family="Liberation Sans" font-weight="bold"><text x="0.1" y="7.65" font-size="5.5">A</text><text x="4.0" y="4.75" font-size="5.6">B</text><text x="5.5" y="9.85" font-size="5.4">C</text></g></g>
<g transform="translate(985.40,134.40)"><path d="M-4.6 0 H4.6" stroke="#56697a" stroke-width="1.05" fill="none"/></g>
<rect x="825.40" y="148.00" width="146.30" height="20.20" fill="#fff" rx="2.3" stroke="#e2e7ec" stroke-width="1"/>
<rect x="831.90" y="151.90" width="89.10" height="12.20" fill="#e8ecf0" rx="2"/>
<g transform="translate(914.75,158.10)"><path d="M-2.7 -2.7 L2.7 2.7 M2.7 -2.7 L-2.7 2.7" stroke="#2a3640" stroke-width="0.9" fill="none"/></g>
<g transform="translate(952.00,158.30)"><circle r="3.7" fill="#bbc2c8"/><path d="M-1.3 -1.3 L1.3 1.3 M1.3 -1.3 L-1.3 1.3" stroke="#fff" stroke-width="0.8"/></g>
<g transform="translate(963.30,158.50)"><path d="M-2.0 -1.0 L0 1.0 L2.0 -1.0" fill="none" stroke="#50606d" stroke-width="1.0" stroke-linecap="round" stroke-linejoin="round"/></g>
<line x1="825.00" x2="995.00" y1="185.30" y2="185.30" stroke="#ebeef1" stroke-width="0.8"/>
<rect x="825.40" y="213.90" width="169.70" height="19.30" fill="#fff" rx="2.3" stroke="#e2e7ec" stroke-width="1"/>
<g transform="translate(833.00,217.00)"><path d="M0.5 0.5 V12.4 H13.7" fill="none" stroke="#c3ccd4" stroke-width="0.7"/><g fill="#2e86d2"><rect x="2.2" y="8.8" width="1.9" height="2.2" rx="0.3"/><rect x="5" y="4.1" width="1.7" height="6.9" rx="0.3"/><rect x="7.8" y="6.8" width="1.4" height="4.2" rx="0.3"/><rect x="10.1" y="1.6" width="2" height="9.4" rx="0.3"/></g></g>
<g transform="translate(985.20,224.10)"><path d="M-2.0 -1.0 L0 1.0 L2.0 -1.0" fill="none" stroke="#50606d" stroke-width="1.0" stroke-linecap="round" stroke-linejoin="round"/></g>
<line x1="825.00" x2="995.00" y1="245.40" y2="245.40" stroke="#ebeef1" stroke-width="0.8"/>
<g transform="translate(961.90,260.90)"><g fill="#44535f"><rect x="-1.05" y="-4.15" width="2.1" height="1.8" rx="0.7"/><rect x="-1.05" y="-0.9" width="2.1" height="1.8" rx="0.7"/><rect x="-1.05" y="2.35" width="2.1" height="1.8" rx="0.7"/></g></g>
<g transform="translate(985.30,260.80)"><path d="M0 -4.5 V4.5 M-4.5 0 H4.5" stroke="#8192a0" stroke-width="0.9" fill="none"/></g>
<g transform="translate(961.90,320.90)"><g fill="#44535f"><rect x="-1.05" y="-4.15" width="2.1" height="1.8" rx="0.7"/><rect x="-1.05" y="-0.9" width="2.1" height="1.8" rx="0.7"/><rect x="-1.05" y="2.35" width="2.1" height="1.8" rx="0.7"/></g></g>
<g transform="translate(985.30,320.80)"><path d="M0 -4.5 V4.5 M-4.5 0 H4.5" stroke="#8192a0" stroke-width="0.9" fill="none"/></g>
<g transform="translate(961.90,381.00)"><g fill="#44535f"><rect x="-1.05" y="-4.15" width="2.1" height="1.8" rx="0.7"/><rect x="-1.05" y="-0.9" width="2.1" height="1.8" rx="0.7"/><rect x="-1.05" y="2.35" width="2.1" height="1.8" rx="0.7"/></g></g>
<g transform="translate(985.30,380.90)"><path d="M0 -4.5 V4.5 M-4.5 0 H4.5" stroke="#8192a0" stroke-width="0.9" fill="none"/></g>
<rect x="824.90" y="273.70" width="147.30" height="20.70" fill="#f4f6f8" rx="2.4"/>
<g transform="translate(832.80,278.60)"><g fill="none" stroke="#5f7587" stroke-width="1"><rect x="0.75" y="1.9" width="9.0" height="8.0" rx="0.7"/><path d="M0.75 4.25 H9.75 M2.8 0.3 V3.0 M7.7 0.3 V3.0 M3.6 4.6 V9.9 M6.9 4.6 V9.9 M0.75 7.1 H9.75"/></g></g>
<g transform="translate(985.50,283.70)"><path d="M-4.6 0 H4.6" stroke="#8192a0" stroke-width="1.05" fill="none"/></g>
<line x1="825.00" x2="904.00" y1="305.40" y2="305.40" stroke="#ebeef1" stroke-width="0.8"/>
<line x1="917.60" x2="995.00" y1="305.40" y2="305.40" stroke="#ebeef1" stroke-width="0.8"/>
<g transform="translate(905.60,300.80)"><g fill="none" stroke="#5f7587" stroke-width="1" stroke-linecap="round" stroke-linejoin="round"><path d="M2.7 6.0 V0.9 M0.8 2.8 L2.7 0.9 L4.6 2.8"/><path d="M7.1 3.3 V8.4 M5.2 6.5 L7.1 8.4 L9 6.5"/></g></g>
<rect x="824.90" y="333.90" width="147.30" height="20.50" fill="#f4f6f8" rx="2.4"/>
<g transform="translate(985.50,343.60)"><path d="M-4.6 0 H4.6" stroke="#8192a0" stroke-width="1.05" fill="none"/></g>
<line x1="825.00" x2="995.00" y1="365.20" y2="365.20" stroke="#ebeef1" stroke-width="0.8"/>
<rect x="824.90" y="393.90" width="147.30" height="20.80" fill="#f4f6f8" rx="2.4"/>
<g transform="translate(833.30,399.00)"><g fill="#586a78" stroke="#586a78" stroke-width="0.28" font-family="Liberation Sans" font-weight="bold"><text x="0.1" y="7.65" font-size="5.5">A</text><text x="4.0" y="4.75" font-size="5.6">B</text><text x="5.5" y="9.85" font-size="5.4">C</text></g></g>
<g transform="translate(985.50,403.70)"><path d="M-4.6 0 H4.6" stroke="#8192a0" stroke-width="1.05" fill="none"/></g>
<rect x="979.40" y="421.30" width="11.40" height="10.80" fill="#077a9d" rx="2.4"/>
<g font-family="Liberation Sans, sans-serif">
<text x="13.00" y="27.75" transform="rotate(0.03 13.00 27.75)" font-size="8.4" fill="#11171c" text-anchor="start" font-weight="bold">Total price and order month by order priority and clerk</text>
<text x="34.30" y="397.45" transform="rotate(0.03 34.30 397.45)" font-size="7.6" fill="#1c1c1c" text-anchor="end" stroke="#1c1c1c" stroke-width="0.16">0</text>
<text x="34.30" y="327.18" transform="rotate(0.03 34.30 327.18)" font-size="7.6" fill="#1c1c1c" text-anchor="end" stroke="#1c1c1c" stroke-width="0.16">1M</text>
<text x="34.30" y="256.91" transform="rotate(0.03 34.30 256.91)" font-size="7.6" fill="#1c1c1c" text-anchor="end" stroke="#1c1c1c" stroke-width="0.16">2M</text>
<text x="34.30" y="186.64" transform="rotate(0.03 34.30 186.64)" font-size="7.6" fill="#1c1c1c" text-anchor="end" stroke="#1c1c1c" stroke-width="0.16">3M</text>
<text x="34.30" y="116.37" transform="rotate(0.03 34.30 116.37)" font-size="7.6" fill="#1c1c1c" text-anchor="end" stroke="#1c1c1c" stroke-width="0.16">4M</text>
<text x="34.30" y="46.10" transform="rotate(0.03 34.30 46.10)" font-size="7.6" fill="#1c1c1c" text-anchor="end" stroke="#1c1c1c" stroke-width="0.16">5M</text>
<text x="48.30" y="407.60" transform="rotate(0.03 48.30 407.60)" font-size="7.65" fill="#1c1c1c" text-anchor="middle" stroke="#1c1c1c" stroke-width="0.16">Jan 1992</text>
<text x="147.12" y="407.60" transform="rotate(0.03 147.12 407.60)" font-size="7.65" fill="#1c1c1c" text-anchor="middle" stroke="#1c1c1c" stroke-width="0.16">Jan 1993</text>
<text x="245.94" y="407.60" transform="rotate(0.03 245.94 407.60)" font-size="7.65" fill="#1c1c1c" text-anchor="middle" stroke="#1c1c1c" stroke-width="0.16">Jan 1994</text>
<text x="344.76" y="407.60" transform="rotate(0.03 344.76 407.60)" font-size="7.65" fill="#1c1c1c" text-anchor="middle" stroke="#1c1c1c" stroke-width="0.16">Jan 1995</text>
<text x="443.58" y="407.60" transform="rotate(0.03 443.58 407.60)" font-size="7.65" fill="#1c1c1c" text-anchor="middle" stroke="#1c1c1c" stroke-width="0.16">Jan 1996</text>
<text x="542.40" y="407.60" transform="rotate(0.03 542.40 407.60)" font-size="7.65" fill="#1c1c1c" text-anchor="middle" stroke="#1c1c1c" stroke-width="0.16">Jan 1997</text>
<text x="641.22" y="407.60" transform="rotate(0.03 641.22 407.60)" font-size="7.65" fill="#1c1c1c" text-anchor="middle" stroke="#1c1c1c" stroke-width="0.16">Jan 1998</text>
<text x="373.30" y="417.90" transform="rotate(0.03 373.30 417.90)" font-size="8.1" fill="#11171c" text-anchor="middle" font-weight="bold">Order date</text>
<text x="19.1" y="218.9" transform="rotate(-90.03 19.1 218.9)" font-size="8.1" font-weight="bold" fill="#11171c" text-anchor="middle">Total price</text>
<text x="714.20" y="44.40" transform="rotate(0.03 714.20 44.40)" font-size="8.3" fill="#11171c" text-anchor="start" font-weight="bold">o_orderpriority</text>
<text x="725.20" y="55.70" transform="rotate(0.03 725.20 55.70)" font-size="7.6" fill="#1c1c1c" text-anchor="start" stroke="#1c1c1c" stroke-width="0.16">1-URGENT</text>
<text x="725.20" y="67.17" transform="rotate(0.03 725.20 67.17)" font-size="7.6" fill="#1c1c1c" text-anchor="start" stroke="#1c1c1c" stroke-width="0.16">2-HIGH</text>
<text x="725.20" y="78.64" transform="rotate(0.03 725.20 78.64)" font-size="7.6" fill="#1c1c1c" text-anchor="start" stroke="#1c1c1c" stroke-width="0.16">3-MEDIUM</text>
<text x="725.20" y="90.11" transform="rotate(0.03 725.20 90.11)" font-size="7.6" fill="#1c1c1c" text-anchor="start" stroke="#1c1c1c" stroke-width="0.16">4-NOT SPECIFIED</text>
<text x="725.20" y="101.58" transform="rotate(0.03 725.20 101.58)" font-size="7.6" fill="#1c1c1c" text-anchor="start" stroke="#1c1c1c" stroke-width="0.16">5-LOW</text>
<text x="825.20" y="13.00" transform="rotate(0.03 825.20 13.00)" font-size="8.45" fill="#11171c" text-anchor="start" font-weight="bold">Widget</text>
<text x="840.90" y="32.10" transform="rotate(0.03 840.90 32.10)" font-size="8.6" fill="#11171c" text-anchor="start" stroke="#11171c" stroke-width="0.16">Title</text>
<text x="882.70" y="32.10" transform="rotate(0.03 882.70 32.10)" font-size="8.7" fill="#11171c" text-anchor="start" stroke="#11171c" stroke-width="0.16">Description</text>
<text x="825.20" y="65.30" transform="rotate(0.03 825.20 65.30)" font-size="8.5" fill="#11171c" text-anchor="start" font-weight="bold">Dataset</text>
<text x="995.20" y="65.30" transform="rotate(0.03 995.20 65.30)" font-size="8.7" fill="#2272b4" text-anchor="end" stroke="#2272b4" stroke-width="0.16">Hide filters (1)</text>
<text x="832.80" y="88.00" transform="rotate(0.03 832.80 88.00)" font-size="8.6" fill="#11171c" text-anchor="start" stroke="#11171c" stroke-width="0.16">Orders</text>
<text x="825.20" y="114.60" transform="rotate(0.03 825.20 114.60)" font-size="8.45" fill="#11171c" text-anchor="start" font-weight="bold">Filter fields</text>
<text x="848.60" y="137.80" transform="rotate(0.03 848.60 137.80)" font-size="8.6" fill="#11171c" text-anchor="start" font-weight="bold">o_clerk</text>
<text x="834.40" y="160.80" transform="rotate(0.03 834.40 160.80)" font-size="8.3" fill="#11171c" text-anchor="start" stroke="#11171c" stroke-width="0.16" letter-spacing="0.37">Clerk#000002976</text>
<text x="825.20" y="204.10" transform="rotate(0.03 825.20 204.10)" font-size="8.45" fill="#11171c" text-anchor="start" font-weight="bold">Visualization</text>
<text x="849.70" y="226.80" transform="rotate(0.03 849.70 226.80)" font-size="8.4" fill="#11171c" text-anchor="start" stroke="#11171c" stroke-width="0.16">Bar</text>
<text x="825.20" y="264.00" transform="rotate(0.03 825.20 264.00)" font-size="8.45" fill="#11171c" text-anchor="start" font-weight="bold">X axis</text>
<text x="825.20" y="324.00" transform="rotate(0.03 825.20 324.00)" font-size="8.45" fill="#11171c" text-anchor="start" font-weight="bold">Y axis</text>
<text x="825.20" y="384.10" transform="rotate(0.03 825.20 384.10)" font-size="8.45" fill="#11171c" text-anchor="start" font-weight="bold">Color</text>
<text x="848.60" y="287.30" transform="rotate(0.03 848.60 287.30)" font-size="8.74" fill="#11171c" text-anchor="start" font-weight="bold">MONTHLY(o_orderdate)</text>
<text x="832.90" y="346.90" transform="rotate(0.03 832.90 346.90)" font-size="6.9" fill="#586a78" text-anchor="start" font-weight="bold" letter-spacing="0.2">1.2</text>
<text x="848.70" y="347.20" transform="rotate(0.03 848.70 347.20)" font-size="8.8" fill="#11171c" text-anchor="start" font-weight="bold">SUM(o_totalprice)</text>
<text x="848.70" y="407.30" transform="rotate(0.03 848.70 407.30)" font-size="8.6" fill="#11171c" text-anchor="start" font-weight="bold">o_orderpriority</text>
<text x="825.20" y="430.20" transform="rotate(0.03 825.20 430.20)" font-size="8.0" fill="#11171c" text-anchor="start" stroke="#11171c" stroke-width="0.16">1-URGENT</text>
</g>
</svg>
</div>
</body></html>
